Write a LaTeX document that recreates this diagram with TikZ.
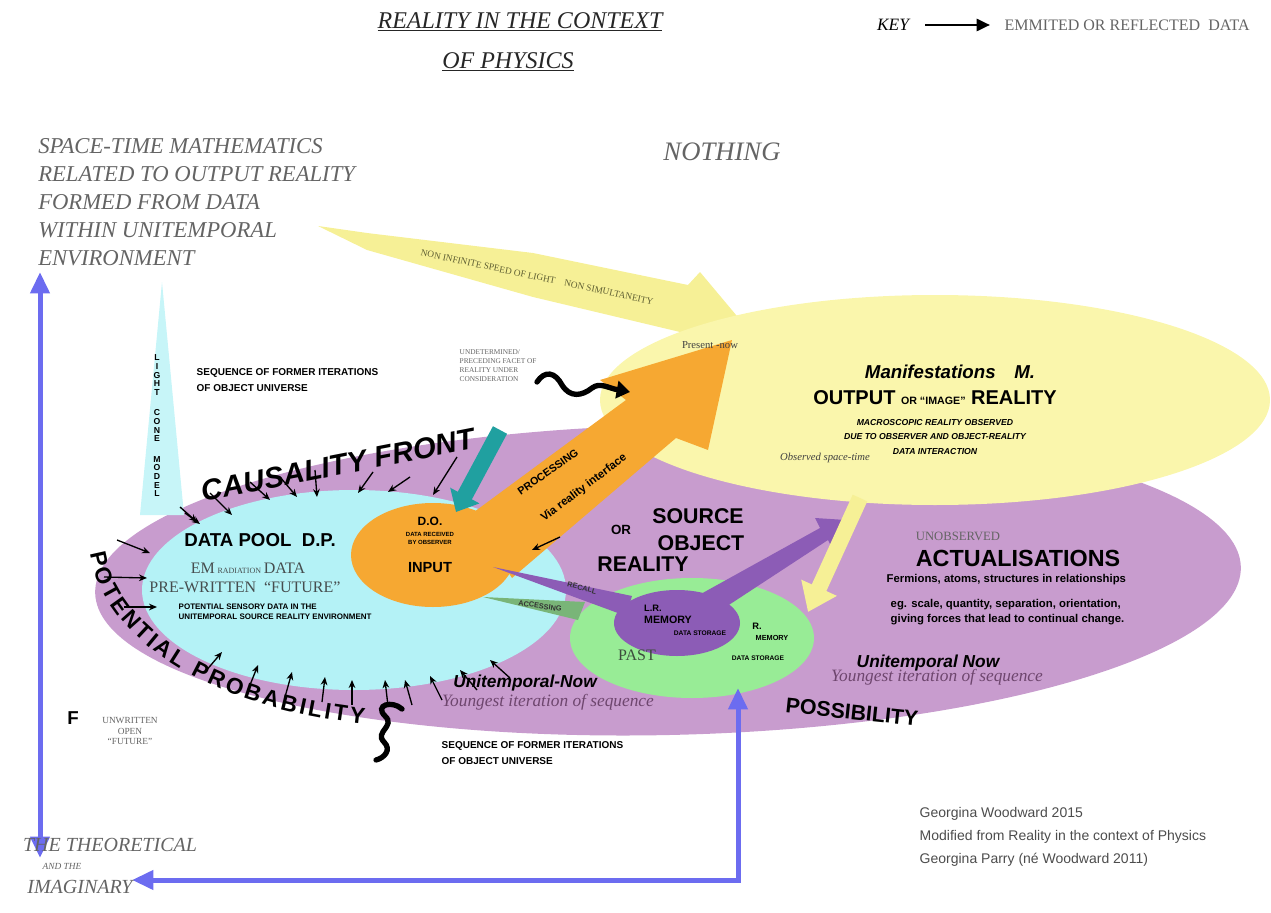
\documentclass[tikz,border=0pt]{standalone}
\usepackage{fontspec}
\setmainfont{Liberation Serif}
\setsansfont{Liberation Sans}
\usetikzlibrary{arrows.meta,decorations.text}

\definecolor{possible}{RGB}{200,156,206}
\definecolor{pool}{RGB}{180,242,246}
\definecolor{output}{RGB}{250,246,172}
\definecolor{lightray}{RGB}{246,240,150}
\definecolor{memgreen}{RGB}{152,236,150}
\definecolor{memviolet}{RGB}{140,92,182}
\definecolor{input}{RGB}{246,168,50}
\definecolor{timeline}{RGB}{108,108,240}
\definecolor{sensor}{RGB}{32,160,160}
\definecolor{paleink}{RGB}{100,100,100}
\definecolor{nowink}{RGB}{110,70,110}
\definecolor{olive}{RGB}{95,95,50}

\newcommand{\fsz}[2]{\fontsize{#1}{#2}\selectfont}

\tikzset{
  heading/.style={font=\itshape\fsz{18}{22}, text=black!85},
  spacetime/.style={font=\itshape\fsz{17}{21}, text=paleink, align=left, anchor=north west, inner sep=0pt},
  boldsans/.style={font=\sffamily\bfseries\fsz{#1}{#1}},
  capsnote/.style={font=\sffamily\bfseries\fsz{7.5}{12}, align=left, anchor=west},
  greynote/.style={font=\fsz{#1}{#1}, text=paleink, align=center},
  nowline/.style={font=\sffamily\bfseries\itshape\fsz{13}{13}},
  youngline/.style={font=\itshape\fsz{13}{13}, text=nowink},
  inflow/.style={-{Stealth[length=6pt,width=5pt]}, line width=1pt},
  timearrow/.style={timeline, line width=3.75pt, line join=miter,
    {Triangle[length=16pt,width=14pt]}-{Triangle[length=16pt,width=14pt]}},
  wiggle/.style={line width=4pt, line cap=round},
}

\begin{document}
\begin{tikzpicture}[x=0.75pt,y=-0.75pt]
\useasboundingbox (0,0) rectangle (1271,913);

% regions
\fill[possible, rotate around={1.3:(668,580)}] (668,580) ellipse [x radius=573, y radius=155];
\fill[lightray] (318,226) -- (367,233) -- (533,253) -- (688,285) -- (700,272)
  -- (752,334) -- (692,344) -- (680,332) -- (533,297) -- (367,250) -- cycle;
\fill[output] (935,400) ellipse [x radius=335, y radius=105];
\fill[pool!75] (162,282) -- (140,515) -- (184,515) -- cycle;
\fill[pool] (354,590) ellipse [x radius=212, y radius=100];
\fill[input] (470,515) -- (626,400) -- (600,380) -- (732,340) -- (708,450)
  -- (676,438) -- (512,578) -- cycle;
\fill[input] (433,555) ellipse [x radius=82, y radius=52];
\fill[memgreen] (692,638) ellipse [x radius=122, y radius=60];
\fill[memviolet] (677,623) ellipse [x radius=63, y radius=33];

% arrows between the regions
\coordinate (sensetail) at (500,430);
\coordinate (sensetip) at (456,512);
\draw[sensor, line width=12pt, -{Triangle[length=14pt,width=24pt]}] (sensetail) -- (sensetip);
\fill[memviolet] (493,567) -- (632,596) -- (626,616) -- cycle;
\fill[memviolet] (690,600) -- (820,528) -- (815,518) -- (846,520) -- (832,548) -- (828,540) -- (712,616) -- cycle;
\fill[memgreen!75!black!95] (483,597) -- (585,602) -- (578,620) -- cycle;
\coordinate (addtail) at (860,498);
\coordinate (addtip) at (808,612);
\draw[lightray, line width=12pt, -{Triangle[length=20pt,width=28pt]}] (addtail) -- (addtip);

% causality front
\foreach \xa/\ya/\xb/\yb in {180/507/197/522, 210/493/232/515, 250/482/270/500, 280/477/297/497,
    315/470/317/497, 373/472/358/493, 410/477/388/492, 457/457/433/495,
    117/540/150/553, 104/577/147/578, 124/607/157/607, 185/513/200/524,
    205/672/222/652, 248/690/258/665, 285/697/292/672, 322/702/325/677,
    352/705/352/680, 388/706/385/680, 412/705/405/680, 442/700/430/676,
    477/690/460/670, 510/678/490/660, 560/537/532/550}
  \draw[inflow] (\xa,\ya) -- (\xb,\yb);

% time line
\coordinate (mathsend) at (40,272);
\coordinate (imagend) at (40,858);
\draw[timearrow] (imagend) -- (mathsend);
\coordinate (nowtip) at (738,688);
\coordinate (corner) at (738,880);
\coordinate (imagtip) at (132,880);
\draw[timearrow] (nowtip) -- (corner) -- (imagtip);

% undetermined facets
\coordinate (wiggletail) at (537,382);
\coordinate (wigglehead) at (630,392);
\draw[wiggle, -{Triangle[length=10pt,width=13pt]}] (wiggletail)
  .. controls (545,370) and (555,372) .. (562,385)
  .. controls (570,398) and (582,396) .. (592,388)
  .. controls (600,382) and (608,388) .. (wigglehead);
\draw[wiggle] (402,709) .. controls (392,700) and (374,705) .. (385,716)
  .. controls (396,726) and (374,732) .. (384,742)
  .. controls (392,750) and (384,758) .. (376,760);

% key
\node[font=\itshape\fsz{13}{15}] (key) at (893,25) {KEY};
\coordinate (keytail) at (925,25);
\coordinate (keytip) at (990,25);
\draw[line width=2pt, -{Triangle[length=10pt,width=9pt]}] (keytail) -- (keytip);
\node[greynote=12, anchor=west] (keytext) at (1000,25) {EMMITED OR REFLECTED\ \ DATA};

% titles
\node[heading] (title) at (520,22) {\underline{REALITY IN THE CONTEXT}};
\node[heading] (subtitle) at (508,62) {\underline{OF PHYSICS}};
\node[font=\itshape\fsz{20}{24}, text=paleink] (nothing) at (722,152) {NOTHING};
\node[spacetime] (maths) at (38,138) {SPACE-TIME MATHEMATICS\\RELATED TO OUTPUT REALITY\\FORMED FROM DATA\\WITHIN UNITEMPORAL\\ENVIRONMENT};
\node[font=\fsz{7}{7}, text=olive, rotate=-12] (light) at (537,277) {NON INFINITE SPEED OF LIGHT\quad NON SIMULTANEITY};

\node[boldsans=6.5, align=center, inner sep=0pt] (cone) at (157,426)
  {\fsz{6.5}{8.75}L\\I\\G\\H\\T\\[8.75pt]C\\O\\N\\E\\[8.75pt]M\\O\\D\\E\\L};

\node[font=\sffamily\bfseries\itshape\fsz{22}{22}, rotate=11] (front) at (338,465) {CAUSALITY FRONT};
\path[decorate, decoration={text along path, text align={fit to path},
  text={|\sffamily\bfseries\fsz{17}{17}|POTENTIAL PROBABILITY}}]
  (90,553) .. controls (104,640) and (210,708) .. (364,724);

% data pool
\node[boldsans=14] (datapool) at (260,540) {DATA POOL\ \ D.P.};
\node[greynote=12, text=paleink!80!pool!60!black] (emdata) at (248,568) {EM\,{\fsz{6}{6}RADIATION}\,DATA};
\node[greynote=12, text=paleink!80!pool!60!black] (prewritten) at (245,587) {PRE-WRITTEN\ \ “FUTURE”};
\node[font=\sffamily\bfseries\fsz{6}{7.5}, align=left, anchor=west] (sensory) at (174,612)
  {POTENTIAL SENSORY DATA IN THE\\UNITEMPORAL SOURCE REALITY ENVIRONMENT};

% input
\node[boldsans=9] (doinput) at (430,521) {D.O.};
\node[font=\sffamily\bfseries\fsz{4.5}{6}, align=center] (received) at (430,538) {DATA RECEIVED\\BY OBSERVER};
\node[boldsans=11] (inputlabel) at (430,568) {INPUT};
\node[boldsans=8, rotate=35] (processing) at (548,472) {PROCESSING};
\node[boldsans=8.5, rotate=37] (interface) at (584,488) {Via reality interface};

% output reality
\node[font=\fsz{8}{9}, text=black!75] (present) at (710,345) {Present -now};
\node[font=\sffamily\bfseries\itshape\fsz{14}{14}] (manif) at (950,372) {Manifestations\quad M.};
\node[font=\sffamily\bfseries] (outreal) at (935,398)
  {\fsz{15}{15}OUTPUT {\fsz{8}{8}OR “IMAGE”} REALITY};
\node[font=\sffamily\bfseries\itshape\fsz{6.5}{11}, align=center] (macro) at (935,437)
  {MACROSCOPIC REALITY OBSERVED\\DUE TO OBSERVER AND OBJECT-REALITY\\DATA INTERACTION};
\node[font=\itshape\fsz{8}{9}, text=black!75] (observed) at (825,458) {Observed space-time};

% sequences
\node[capsnote] (seqtop) at (192,380) {SEQUENCE OF FORMER ITERATIONS\\OF OBJECT UNIVERSE};
\node[capsnote] (seqbottom) at (437,753) {SEQUENCE OF FORMER ITERATIONS\\OF OBJECT UNIVERSE};
\node[greynote=5.5, align=left, anchor=west, font=\fsz{5.5}{6.75}] (undet) at (455,366)
  {UNDETERMINED/\\PRECEDING FACET OF\\REALITY UNDER\\CONSIDERATION};

% source reality
\node[boldsans=16] (source) at (698,516) {SOURCE};
\node[boldsans=10] (orword) at (621,530) {OR};
\node[boldsans=16] (object) at (701,543) {OBJECT};
\node[boldsans=16] (reality) at (643,564) {REALITY};
\node[boldsans=5.5, rotate=-15, text=black!80] (recall) at (582,588) {RECALL};
\node[boldsans=5.5, rotate=-8, text=black!80] (accessing) at (540,606) {ACCESSING};
\node[boldsans=7] (lr) at (653,608) {L.R.};
\node[boldsans=8] (memory) at (668,620) {MEMORY};
\node[boldsans=5] (storage) at (700,633) {DATA STORAGE};
\node[boldsans=7] (rr) at (757,626) {R.};
\node[boldsans=5.5] (rmemory) at (772,638) {MEMORY};
\node[boldsans=5] (rstorage) at (758,658) {DATA STORAGE};
\node[greynote=12, text=paleink!60!memgreen!50!black] (past) at (637,655) {PAST};

% actualisations
\node[greynote=9.5] (unobserved) at (958,536) {UNOBSERVED};
\node[boldsans=17.5] (actual) at (1018,558) {ACTUALISATIONS};
\node[boldsans=8.5, anchor=west] (fermions) at (882,580) {Fermions, atoms, structures in relationships};
\node[font=\sffamily\bfseries\fsz{8.5}{11.5}, align=left, anchor=west] (eg) at (886,612)
  {eg. scale, quantity, separation, orientation,\\giving forces that lead to continual change.};

\node[nowline] (nowright) at (928,663) {Unitemporal Now};
\node[youngline] (youngright) at (937,677) {Youngest iteration of sequence};
\node[nowline] (nowmid) at (525,683) {Unitemporal-Now};
\node[youngline] (youngmid) at (548,702) {Youngest iteration of sequence};
\node[boldsans=16, rotate=-6] (possibility) at (852,712) {POSSIBILITY};

% future and the imaginary
\node[boldsans=14] (fmark) at (73,718) {F};
\node[greynote=7, font=\fsz{7}{8}] (unwritten) at (130,731) {UNWRITTEN\\OPEN\\“FUTURE”};
\node[font=\itshape\fsz{15}{15}, text=paleink] (theory) at (110,845) {THE THEORETICAL};
\node[font=\itshape\fsz{7}{7}, text=paleink] (andthe) at (62,866) {AND THE};
\node[font=\itshape\fsz{15}{15}, text=paleink] (imaginary) at (80,887) {IMAGINARY};

\node[font=\sffamily\fsz{10.5}{17}, text=black!70, align=left, anchor=north west] (credit) at (915,803)
  {Georgina Woodward 2015\\Modified from Reality in the context of Physics\\Georgina Parry (né Woodward 2011)};
\end{tikzpicture}
\end{document}
